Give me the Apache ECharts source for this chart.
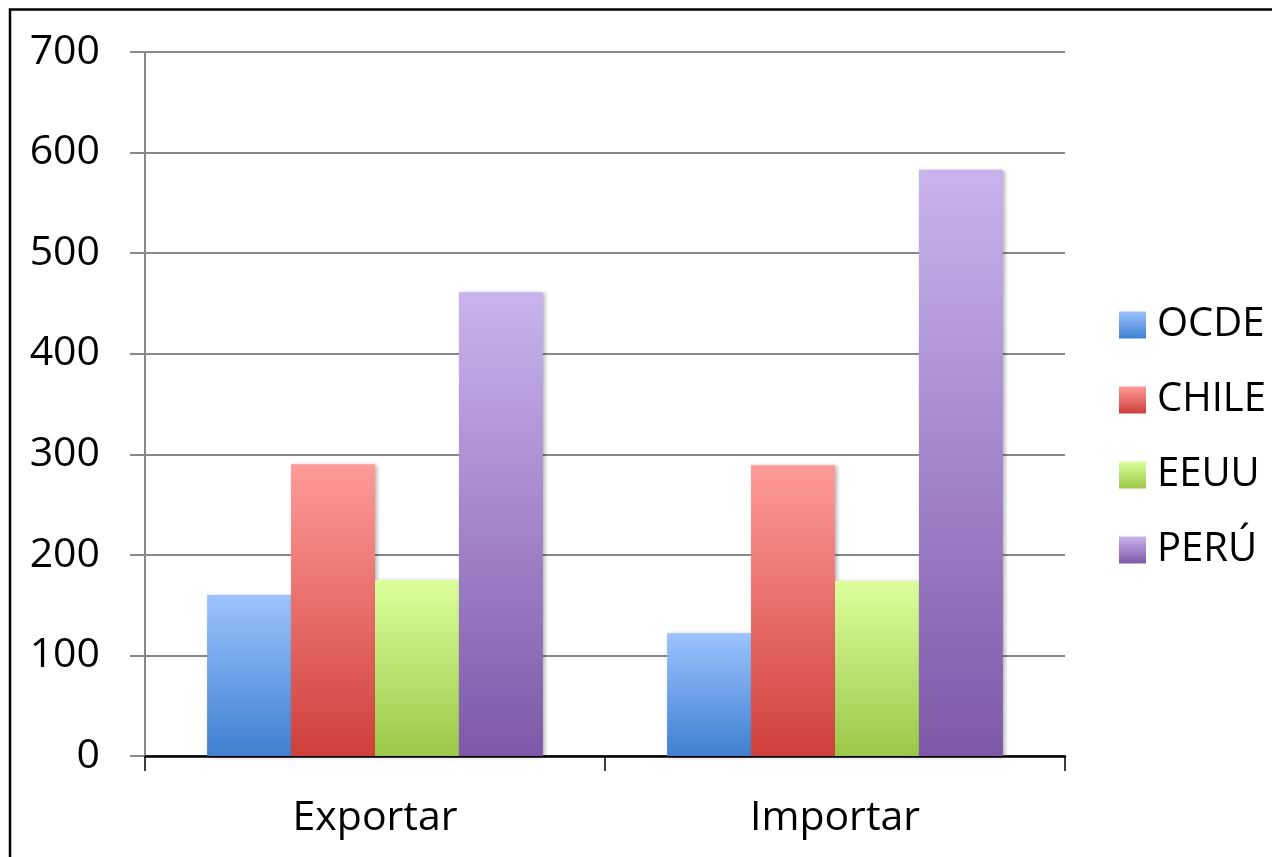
<!DOCTYPE html>
<html>
<head>
<meta charset="utf-8">
<script src="https://cdn.jsdelivr.net/npm/echarts@6/dist/echarts.min.js"></script>
<style>
html,body{margin:0;padding:0;background:#fff;}
#chart{width:1272px;height:857px;}
</style>
</head>
<body>
<div id="chart"></div>
<script>
const categories = ['Exportar', 'Importar'];
const seriesNames = ['OCDE', 'CHILE', 'EEUU', 'PERÚ'];
const ocde = [160, 122];
const chile = [290, 289];
const eeuu = [175, 174];
const peru = [461, 583];
const yTicks = [0, 100, 200, 300, 400, 500, 600, 700];

const gradients = [
  ['#9cc3ff', '#3f80cf'],
  ['#ff9b98', '#cf3f3b'],
  ['#dcff9c', '#9bc748'],
  ['#c9b3ed', '#7d58a8']
];
const values = [ocde, chile, eeuu, peru];

function grad(c) {
  return new echarts.graphic.LinearGradient(0, 0, 0, 1, [
    {offset: 0, color: c[0]}, {offset: 1, color: c[1]}
  ]);
}

const chart = echarts.init(document.getElementById('chart'), null, {renderer: 'canvas'});
const font = '"Open Sans", "DejaVu Sans", sans-serif';

chart.setOption({
  animation: false,
  backgroundColor: '#fff',
  graphic: [{
    type: 'rect',
    shape: {x: 10, y: 9.5, width: 1300, height: 900},
    style: {fill: 'none', stroke: '#000', lineWidth: 2.5},
    z: 100
  }],
  grid: {left: 145, right: 207, top: 52, bottom: 101, containLabel: false},
  legend: {
    orient: 'vertical',
    left: 1114,
    top: 300,
    itemWidth: 27,
    itemHeight: 27,
    itemGap: 35,
    icon: 'rect',
    textStyle: {fontFamily: font, fontSize: 40, color: '#000', padding: [0, 0, 0, 6]},
    data: seriesNames
  },
  xAxis: {
    type: 'category',
    data: categories,
    axisLine: {show: true, lineStyle: {color: '#000', width: 2.5}},
    axisTick: {show: true, length: 15, alignWithLabel: false, lineStyle: {color: '#000', width: 1.5}},
    axisLabel: {fontFamily: font, fontSize: 41, color: '#000', margin: 42},
    splitLine: {show: false}
  },
  yAxis: {
    type: 'value',
    min: 0,
    max: 700,
    interval: 100,
    axisLine: {show: true, lineStyle: {color: '#888', width: 2}},
    axisTick: {show: true, length: 15, lineStyle: {color: '#888', width: 2}},
    axisLabel: {fontFamily: font, fontSize: 41, color: '#000', margin: 45,
      formatter: v => yTicks.includes(v) ? String(v) : ''},
    splitLine: {show: true, lineStyle: {color: '#888', width: 2}}
  },
  series: seriesNames.map((n, i) => ({
    name: n,
    type: 'bar',
    data: values[i],
    barGap: '0%',
    barCategoryGap: '27%',
    itemStyle: {
      color: grad(gradients[i]),
      shadowBlur: 4,
      shadowColor: 'rgba(0,0,0,0.3)',
      shadowOffsetX: 2,
      shadowOffsetY: 1
    }
  }))
});
</script>
</body>
</html>
